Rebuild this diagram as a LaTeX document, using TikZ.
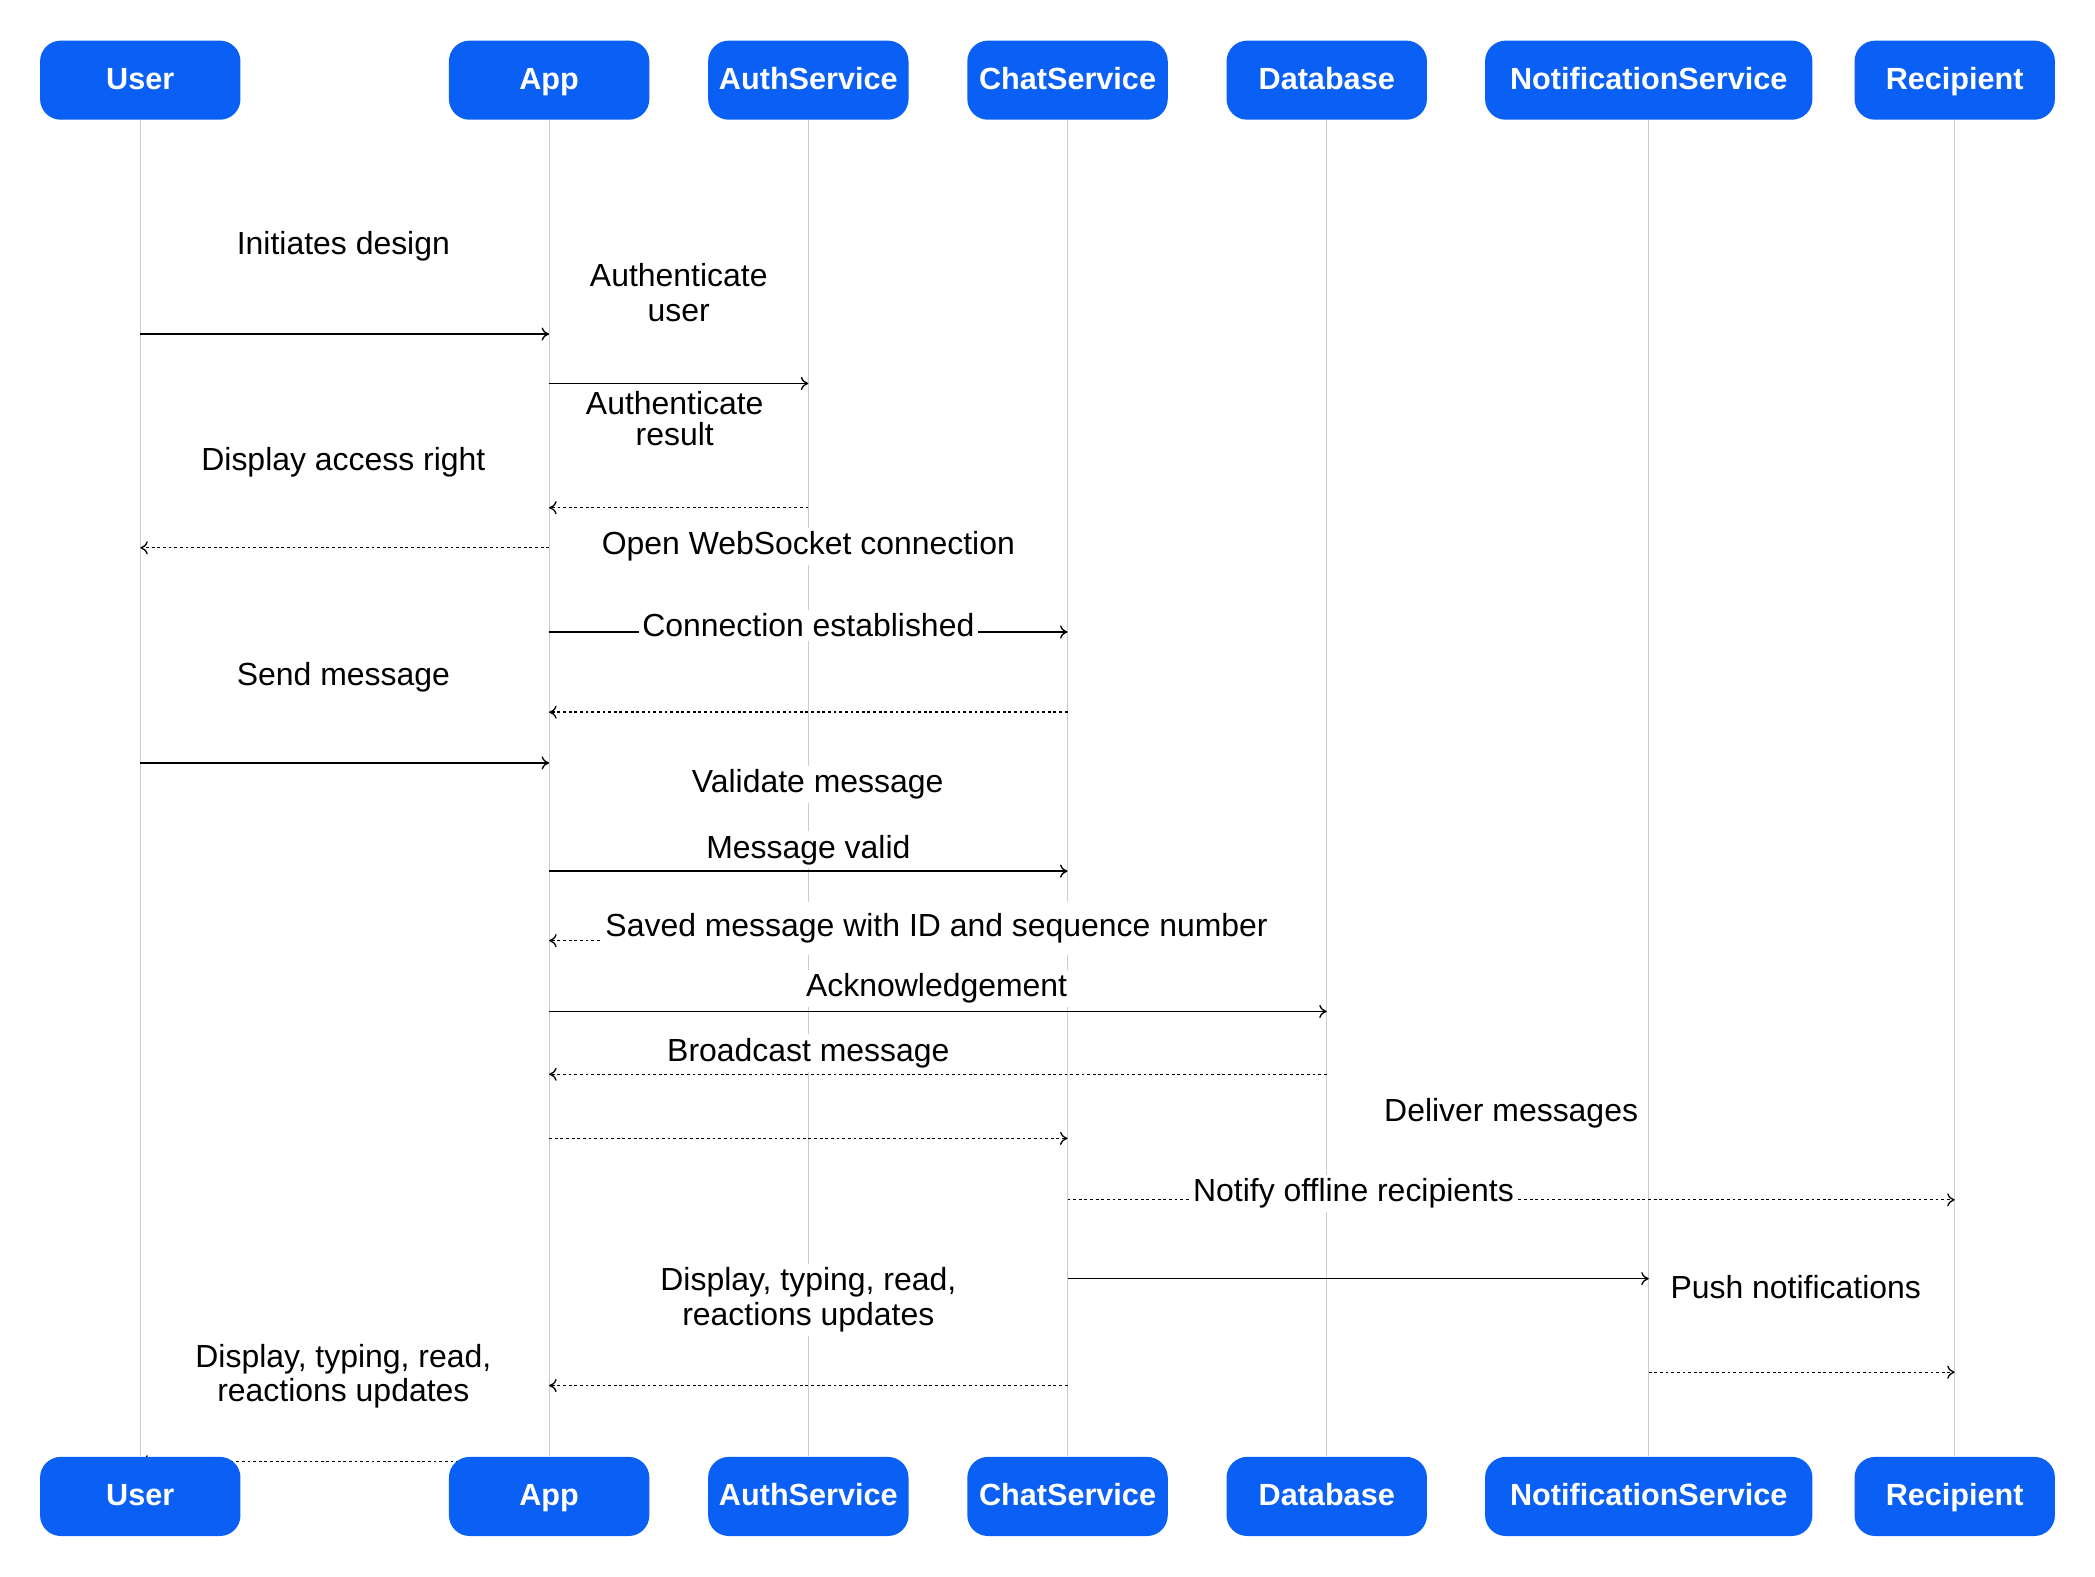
\documentclass[tikz,border=0pt]{standalone}
\usepackage{fontspec}
\setmainfont{Liberation Sans}
\usetikzlibrary{arrows.meta}
\definecolor{boxblue}{HTML}{0A5FF5}
\tikzset{
  actor/.style={fill=boxblue,text=white,font=\bfseries\fontsize{16.3}{19}\selectfont,
    rounded corners=11pt,minimum height=1.48cm,inner xsep=4pt,
    text height=12.5pt,text depth=3pt},
  life/.style={draw=gray!40,line width=0.6pt},
  msg/.style={->,>={To[length=4pt,width=7pt]},line width=0.7pt},
  rep/.style={msg,dash pattern=on 1.5pt off 1.5pt},
  lbl/.style={fill=white,inner sep=2pt,align=center,font=\fontsize{17}{18.5}\selectfont}
}
\begin{document}
\begin{tikzpicture}[x=0.025cm,y=-0.025cm]
\useasboundingbox (0,0) rectangle (1568,1180);

% lifelines
\foreach \n/\x in {u/105,a/411,s/605,c/799,d/993,n/1234,r/1463}{
  \coordinate (\n1) at (\x,90);
  \coordinate (\n2) at (\x,1090);
  \draw[life] (\n1) -- (\n2);
}

% messages
\foreach \s/\t/\y/\st in {u/a/250/msg, a/s/287/msg, s/a/380/rep, a/u/410/rep,
  a/c/473/msg, c/a/533/rep, u/a/571/msg, a/c/652/msg, c/a/704/rep,
  a/d/757/msg, d/a/804/rep, a/c/852/rep, c/r/898/rep, c/n/957/msg,
  n/r/1027/rep, c/a/1037/rep, a/u/1094/rep}{
  \draw[\st] (\s1 |- 0,\y) -- (\t1 |- 0,\y);
}

% labels
\node[lbl] (l1) at (257,184) {Initiates design};
\node[lbl] (l2) at (508,219) {Authenticate\\user};
\node[lbl,inner ysep=0pt] (l3) at (505,313) {Authenticate\\[-2pt]result};
\node[lbl] (l4) at (257,346) {Display access right};
\node[lbl] (l5) at (605,409) {Open WebSocket connection};
\node[lbl] (l6) at (605,468) {Connection established};
\node[lbl] (l7) at (257,507) {Send message};
\node[lbl] (l8) at (612,587) {Validate message};
\node[lbl] (l9) at (605,636) {Message valid};
\node[lbl,inner ysep=6pt] (l10) at (701,695) {Saved message with ID and sequence number};
\node[lbl] (l11) at (701,740) {Acknowledgement};
\node[lbl] (l12) at (605,788) {Broadcast message};
\node[lbl] (l13) at (1131,833) {Deliver messages};
\node[lbl] (l14) at (1013,893) {Notify offline recipients};
\node[lbl] (l15) at (1344,963) {Push notifications};
\node[lbl] (l16) at (605,973) {Display, typing, read,\\reactions updates};
\node[lbl] (l17) at (257,1030) {Display, typing, read,\\reactions updates};

% actors
\foreach \n/\x/\w/\t in {u/105/150/User, a/411/150/App, s/605/150/AuthService,
  c/799/150/ChatService, d/993/150/Database, n/1234/245/NotificationService,
  r/1463/150/Recipient}{
  \node[actor,minimum width=\w*0.025cm] (\n top) at (\x,60) {\t};
  \node[actor,minimum width=\w*0.025cm] (\n bot) at (\x,1120) {\t};
}
\end{tikzpicture}
\end{document}
